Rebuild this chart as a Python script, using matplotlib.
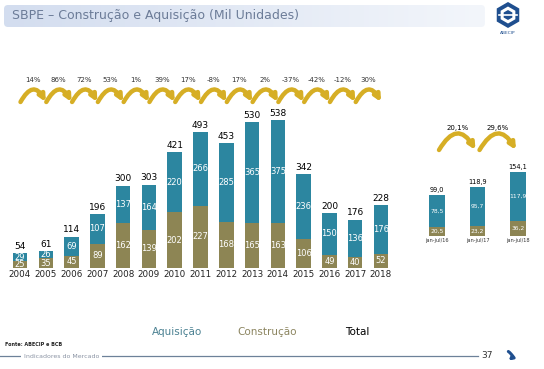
import numpy as np
import matplotlib
matplotlib.use("Agg")
import matplotlib.pyplot as plt
from matplotlib.patches import FancyArrowPatch, FancyBboxPatch, RegularPolygon

# ── data ────────────────────────────────────────────────────────────────────
years = [str(y) for y in range(2004, 2019)]
construcao = [25, 35, 45, 89, 162, 139, 202, 227, 168, 165, 163, 106, 49, 40, 52]
aquisicao = [29, 26, 69, 107, 137, 164, 220, 266, 285, 365, 375, 236, 150, 136, 176]
totais = [54, 61, 114, 196, 300, 303, 421, 493, 453, 530, 538, 342, 200, 176, 228]
var_anual = ["14%", "86%", "72%", "53%", "1%", "39%", "17%", "-8%", "17%", "2%",
             "-37%", "-42%", "-12%", "30%"]

periodos = ["jan-jul/16", "jan-jul/17", "jan-jul/18"]
constr_p = [20.5, 23.2, 36.2]
aquis_p = [78.5, 95.7, 117.9]
total_p = [99.0, 118.9, 154.1]
var_p = ["20,1%", "29,6%"]

TEAL, OLIVE, GOLD = "#2c86a0", "#8d8554", "#d6ae25"
W, H = 544, 369
fig = plt.figure(figsize=(W / 100, H / 100), dpi=100)
fig.patch.set_facecolor("white")


def px_axes(x0, y0, x1, y1):
    """axes placed by pixel box (top-left origin)"""
    return fig.add_axes([x0 / W, 1 - y1 / H, (x1 - x0) / W, (y1 - y0) / H])


def fmt(v):
    return f"{v:.1f}".replace(".", ",")


# ── background / decorations in pixel space ─────────────────────────────────
bg = px_axes(0, 0, W, H)
bg.set_xlim(0, W); bg.set_ylim(H, 0); bg.axis("off")
grad = np.linspace(0, 1, 256)[None, :]
im = bg.imshow(grad, extent=(4, 485, 27, 5), cmap=matplotlib.colors.LinearSegmentedColormap.from_list(
    "t", ["#d3ddef", "#f3f6fb"]), aspect="auto", zorder=1)
box = FancyBboxPatch((4, 5), 481, 22, boxstyle="round,pad=0,rounding_size=4", fc="none", ec="none")
bg.add_patch(box); im.set_clip_path(box)
bg.set_xlim(0, W); bg.set_ylim(H, 0)
bg.text(12, 16, "SBPE – Construção e Aquisição (Mil Unidades)", fontsize=9, color="#6c7c98",
        va="center", ha="left", zorder=2)
# logo
bg.add_patch(RegularPolygon((508, 15), 6, radius=13, orientation=0, fc="#1f4f8f", ec="none"))
bg.add_patch(RegularPolygon((508, 15), 6, radius=8.5, orientation=0, fc="white", ec="none"))
bg.add_patch(RegularPolygon((508, 15), 6, radius=5, orientation=0, fc="#1f4f8f", ec="none"))
bg.plot([499, 517], [15, 15], color="white", lw=1.2)
bg.text(508, 33, "ABECIP", fontsize=3.2, color="#1f4f8f", ha="center", va="center")

# legend (text only)
bg.text(177, 332, "Aquisição", fontsize=7.5, color="#4b8192", ha="center", va="center")
bg.text(267, 332, "Construção", fontsize=7.5, color="#8c8560", ha="center", va="center")
bg.text(357, 332, "Total", fontsize=7.5, color="black", ha="center", va="center")

# footer
bg.text(5, 344, "Fonte: ABECIP e BCB", fontsize=3.5, fontweight="bold", color="#222222", va="center")
bg.plot([0, 478], [356, 356], color="#6d8199", lw=0.9)
bg.text(24, 356, "Indicadores do Mercado", fontsize=4.5, color="#8a93a3", va="center",
        bbox=dict(fc="white", ec="none", pad=2))
bg.text(487, 356, "37", fontsize=6.5, color="#333333", va="center", ha="center")
bg.add_patch(FancyArrowPatch((506, 350), (506, 362), connectionstyle="arc3,rad=-0.9",
                             arrowstyle="-|>", mutation_scale=5, lw=2.2, color="#1f4f8f"))

# ── main chart ──────────────────────────────────────────────────────────────
x0c, dx, base, ppu = 20, 25.8, 268, 148 / 538
ax = px_axes(5, 40, 395, base)
ax.set_xlim(-15 / dx, 14 + 14 / dx)
ax.set_ylim(0, (base - 40) / ppu)
ax.axis("off")
x = np.arange(len(years))
bw = 0.56
ax.bar(x, construcao, bw, color=OLIVE)
ax.bar(x, aquisicao, bw, bottom=construcao, color=TEAL)
for i in x:
    ax.text(i, construcao[i] / 2, str(construcao[i]), color="white", fontsize=6,
            ha="center", va="center")
    ax.text(i, construcao[i] + aquisicao[i] / 2, str(aquisicao[i]), color="white", fontsize=6,
            ha="center", va="center")
    ax.text(i, totais[i] + 8, str(totais[i]), color="black", fontsize=6.5,
            ha="center", va="bottom")
    ax.text(i, -8, years[i], color="#222222", fontsize=6.3, ha="center", va="top", clip_on=False)

y_arr = (base - 102) / ppu
y_lab = (base - 80) / ppu
for i, lab in enumerate(var_anual):
    ax.add_patch(FancyArrowPatch((i + 0.02, y_arr), (i + 1, y_arr), connectionstyle="arc3,rad=-0.9",
                                 arrowstyle="-|>", mutation_scale=9, lw=3.2, color=GOLD,
                                 shrinkA=0, shrinkB=0, clip_on=False))
    ax.text(i + 0.5, y_lab, lab, fontsize=5, color="#333333", ha="center", va="center")

# ── right panel ─────────────────────────────────────────────────────────────
xr0, dxr, base_r, ppu_r = 437, 40.5, 236, 64 / 154.1
ar = px_axes(412, 110, 542, base_r)
ar.set_xlim(-25 / dxr, 2 + 24 / dxr)
ar.set_ylim(0, (base_r - 110) / ppu_r)
ar.axis("off")
xp = np.arange(len(periodos))
bwr = 0.38
ar.bar(xp, constr_p, bwr, color=OLIVE)
ar.bar(xp, aquis_p, bwr, bottom=constr_p, color=TEAL)
for i in xp:
    ar.text(i, constr_p[i] / 2, fmt(constr_p[i]), color="white", fontsize=4.3,
            ha="center", va="center")
    ar.text(i, constr_p[i] + aquis_p[i] / 2, fmt(aquis_p[i]), color="white", fontsize=4.3,
            ha="center", va="center")
    ar.text(i, total_p[i] + 4, fmt(total_p[i]), color="black", fontsize=4.8,
            ha="center", va="bottom")
    ar.text(i, -6, periodos[i], color="#333333", fontsize=3.6, ha="center", va="top", clip_on=False)

y_arr_r = (base_r - 150) / ppu_r
y_lab_r = (base_r - 128) / ppu_r
for i, lab in enumerate(var_p):
    ar.add_patch(FancyArrowPatch((i + 0.05, y_arr_r), (i + 0.95, y_arr_r),
                                 connectionstyle="arc3,rad=-0.85", arrowstyle="-|>",
                                 mutation_scale=9, lw=3.2, color=GOLD,
                                 shrinkA=0, shrinkB=0, clip_on=False))
    ar.text(i + 0.5, y_lab_r, lab, fontsize=5, color="black", ha="center", va="center")

fig.savefig("out.png", dpi=100, facecolor="white")
